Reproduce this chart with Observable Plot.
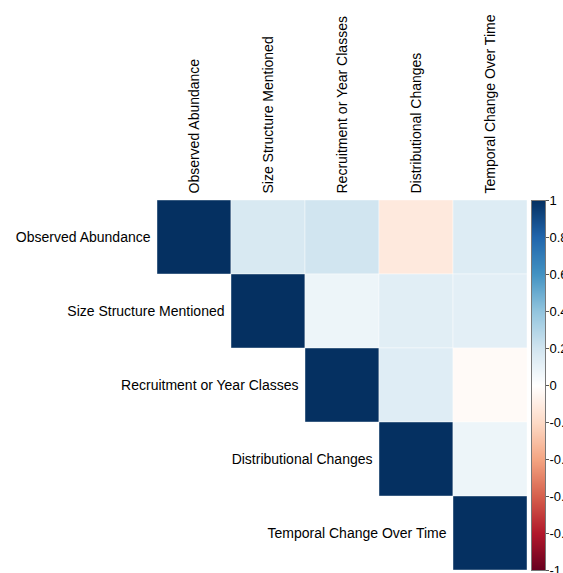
<!DOCTYPE html>
<html><head><meta charset="utf-8">
<script src="https://cdn.jsdelivr.net/npm/d3@7"></script>
<script src="https://cdn.jsdelivr.net/npm/@observablehq/plot@0.6"></script>
<style>
body{margin:0;background:#fff;}
#wrap{position:relative;width:563px;height:573px;overflow:hidden;background:#fff;}
#wrap svg{position:absolute;top:0;}
</style></head><body><div id="wrap"></div>
<script>
const variables = ["Observed Abundance","Size Structure Mentioned","Recruitment or Year Classes","Distributional Changes","Temporal Change Over Time"];
const rowObserved = [1, 0.17, 0.2, -0.12, 0.15];
const rowSize = [null, 1, 0.08, 0.13, 0.12];
const rowRecruit = [null, null, 1, 0.14, -0.03];
const rowDistrib = [null, null, null, 1, 0.08];
const rowTemporal = [null, null, null, null, 1];
const colorTicks = [1, 0.8, 0.6, 0.4, 0.2, 0, -0.2, -0.4, -0.6, -0.8, -1];
const paletteStops = [-1, -0.8, -0.6, -0.4, -0.2, 0, 0.2, 0.4, 0.6, 0.8, 1];
const paletteColors = ["#67001F","#B2182B","#D6604D","#F4A582","#FDDBC7","#FFFFFF","#D1E5F0","#92C5DE","#4393C3","#2166AC","#053061"];

const rows = [rowObserved, rowSize, rowRecruit, rowDistrib, rowTemporal];
const cells = [];
rows.forEach((r, i) => r.forEach((v, j) => { if (v !== null) cells.push({row: variables[i], col: variables[j], value: v}); }));

const colorOpts = {type: "linear", domain: paletteStops, range: paletteColors, interpolate: "rgb"};
const font = "'Liberation Sans', Arial, sans-serif";

const main = Plot.plot({
  width: 563, height: 573,
  marginLeft: 157, marginRight: 36, marginTop: 200, marginBottom: 3,
  x: {domain: variables, axis: null, padding: 0},
  y: {domain: variables, axis: null, padding: 0},
  color: colorOpts,
  style: {fontFamily: font, fontSize: "14px", background: "transparent", overflow: "visible"},
  marks: [
    Plot.cell(cells, {x: "col", y: "row", fill: "value", stroke: "white", strokeWidth: 0.6, strokeOpacity: 0.7}),
    Plot.text(variables, {x: d => d, y: d => d, text: d => d, textAnchor: "end", dx: -44, fill: "black", fontSize: 14}),
    Plot.text(variables, {x: d => d, y: () => variables[0], text: d => d, rotate: -90, textAnchor: "start", dy: -44, fill: "black", fontSize: 14})
  ]
});
document.getElementById("wrap").appendChild(main);
main.style.left = "0px";

const bar = Plot.plot({
  width: 33, height: 573,
  marginLeft: 1, marginRight: 18, marginTop: 200, marginBottom: 3,
  x: {domain: [0, 1], axis: null},
  y: {domain: [-1, 1], axis: null},
  color: colorOpts,
  style: {fontFamily: font, fontSize: "13px", background: "transparent", overflow: "visible"},
  marks: [
    Plot.raster({fill: (x, y) => y, x1: 0, x2: 1, y1: -1, y2: 1, width: 1, height: 370}),
    Plot.frame({stroke: "#777", strokeWidth: 1}),
    Plot.axisY(colorTicks, {anchor: "right", tickSize: 3, tickPadding: 1, tickFormat: d => String(d), fill: "black", stroke: "#555", fontSize: 13})
  ]
});
document.getElementById("wrap").appendChild(bar);
bar.style.left = "530px";
</script></body></html>
